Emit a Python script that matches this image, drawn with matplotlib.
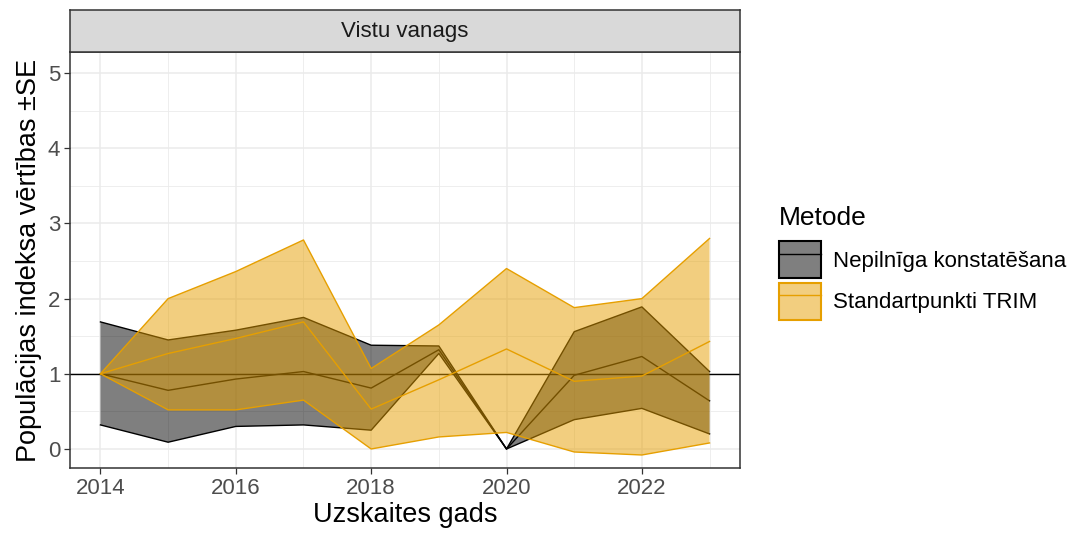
import matplotlib.pyplot as plt
import numpy as np
from matplotlib.patches import Patch
from matplotlib.lines import Line2D
from matplotlib.ticker import MultipleLocator

plt.rcParams['font.family'] = ['Liberation Sans', 'DejaVu Sans']

years = np.arange(2014, 2024)

# Nepilniga konstatesana (black group)
nk_mean = [1.00, 0.78, 0.93, 1.03, 0.81, 1.32, 0.00, 0.98, 1.23, 0.64]
nk_low = [0.32, 0.09, 0.30, 0.32, 0.25, 1.27, 0.00, 0.39, 0.54, 0.20]
nk_high = [1.69, 1.45, 1.58, 1.75, 1.38, 1.37, 0.00, 1.56, 1.89, 1.03]

# Standartpunkti TRIM (orange group)
st_mean = [1.00, 1.27, 1.47, 1.69, 0.53, 0.92, 1.33, 0.90, 0.97, 1.43]
st_low = [1.00, 0.52, 0.52, 0.65, 0.00, 0.16, 0.22, -0.04, -0.08, 0.08]
st_high = [1.00, 2.00, 2.36, 2.78, 1.07, 1.65, 2.40, 1.88, 2.00, 2.80]

group_names = ["Nepilnīga konstatēšana", "Standartpunkti TRIM"]
group_colors = ["#000000", "#E69F00"]

fig = plt.figure(figsize=(10.83, 5.42), dpi=100)
ax = fig.add_axes([70/1083, 1-468/542, 670/1083, 416/542])

# reference line
ax.axhline(1, color="black", lw=1.0, zorder=1)

groups = [(nk_mean, nk_low, nk_high), (st_mean, st_low, st_high)]
for (m, lo, hi), col in zip(groups, group_colors):
    ax.fill_between(years, lo, hi, facecolor=col, alpha=0.5, lw=0, zorder=2)
    ax.plot(years, lo, color=col, lw=1.0, zorder=2)
    ax.plot(years, hi, color=col, lw=1.0, zorder=2)
    ax.plot(years, m, color=col, lw=1.0, zorder=2)

ax.set_xlim(2013.55, 2023.45)
ax.set_ylim(-0.253, 5.28)
ax.xaxis.set_major_locator(MultipleLocator(2))
ax.xaxis.set_minor_locator(MultipleLocator(1))
ax.yaxis.set_major_locator(MultipleLocator(1))
ax.yaxis.set_minor_locator(MultipleLocator(0.5))
ax.grid(True, which="major", color="#EBEBEB", lw=1.1, zorder=0)
ax.grid(True, which="minor", color="#EBEBEB", lw=0.6, zorder=0)
ax.set_axisbelow(True)
ax.tick_params(which="minor", length=0)
ax.tick_params(which="major", length=4, width=0.9, color="#333333",
               labelsize=16, labelcolor="#4D4D4D", pad=3)
for s in ax.spines.values():
    s.set_color("#333333")
    s.set_linewidth(1.1)

ax.set_xlabel("Uzskaites gads", fontsize=19.5, labelpad=2)
ax.set_ylabel("Populācijas indeksa vērtības ±SE", fontsize=19.5, labelpad=4)

# facet strip
strip = fig.add_axes([70/1083, 1-52/542, 670/1083, 42/542])
strip.set_xticks([])
strip.set_yticks([])
strip.set_facecolor("#D9D9D9")
for s in strip.spines.values():
    s.set_color("#333333")
    s.set_linewidth(1.1)
strip.text(0.5, 0.5, "Vistu vanags", ha="center", va="center",
           fontsize=16, color="#1A1A1A", transform=strip.transAxes)

# legend
handles = []
for col in group_colors:
    p = Patch(facecolor=col, alpha=0.5, edgecolor="none")
    b = Patch(facecolor="none", edgecolor=col, lw=1.5)
    ln = Line2D([], [], color=col, lw=1.0)
    handles.append((p, b, ln))
leg = fig.legend(handles, group_names, title="Metode", loc="upper left",
                 bbox_to_anchor=(770/1083, 1-197/542), frameon=False,
                 fontsize=16, title_fontsize=19, handlelength=1.9,
                 handleheight=2.2, handletextpad=0.55, labelspacing=0.2,
                 borderaxespad=0)
leg._legend_box.align = "left"
leg._legend_box.sep = 8

fig.savefig("out.png", dpi=100)
